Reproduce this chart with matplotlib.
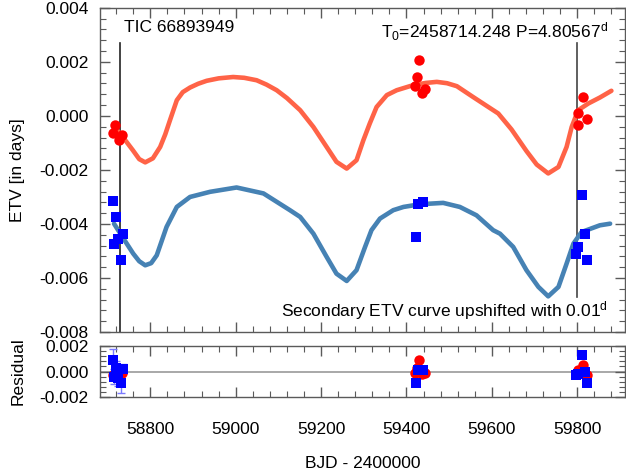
import numpy as np
import matplotlib
matplotlib.use("Agg")
import matplotlib.pyplot as plt
from matplotlib.ticker import MultipleLocator, FormatStrFormatter

plt.rcParams['font.family'] = ['Liberation Sans', 'DejaVu Sans']
plt.rcParams['mathtext.fontset'] = 'custom'
plt.rcParams['mathtext.rm'] = 'Liberation Sans'
plt.rcParams['mathtext.it'] = 'Liberation Sans'
plt.rcParams['axes.unicode_minus'] = False

# model curves
prim_x = [58713, 58736, 58759, 58774, 58788, 58806, 58823, 58835, 58846, 58862, 58876, 58893, 58912,
          58932, 58960, 58994, 59020, 59049, 59072, 59096, 59120, 59151, 59182, 59213, 59236, 59260,
          59283, 59299, 59314, 59330, 59354, 59377, 59416, 59445, 59471, 59495, 59518, 59556, 59585,
          59615, 59646, 59681, 59705, 59732, 59756, 59775, 59787, 59802, 59826, 59853, 59880]
prim_y = [-0.00035, -0.00079, -0.00127, -0.00160, -0.00172, -0.00157, -0.00115, -0.00068, -0.00016,
          0.00058, 0.00088, 0.00105, 0.00119, 0.00130, 0.00139, 0.00144, 0.00141, 0.00132, 0.00116,
          0.00095, 0.00066, 0.00021, -0.00041, -0.00115, -0.00170, -0.00195, -0.00164, -0.00090,
          -0.00028, 0.00033, 0.00077, 0.00095, 0.00114, 0.00122, 0.00126, 0.00121, 0.00110, 0.00070,
          0.00040, 0.00009, -0.00050, -0.00130, -0.00180, -0.00213, -0.00189, -0.00115, -0.00041,
          0.00021, 0.00046, 0.00068, 0.00093]

sec_x = [58715, 58737, 58760, 58774, 58788, 58802, 58815, 58838, 58862, 58893, 58940, 59002, 59065,
         59127, 59151, 59182, 59213, 59236, 59260, 59283, 59303, 59318, 59338, 59369, 59393, 59432,
         59486, 59525, 59564, 59603, 59619, 59650, 59681, 59709, 59732, 59756, 59775, 59791, 59810,
         59853, 59877]
sec_y = [-0.00399, -0.00454, -0.00510, -0.00538, -0.00553, -0.00545, -0.00516, -0.00411, -0.00337,
         -0.00300, -0.00281, -0.00265, -0.00287, -0.00349, -0.00374, -0.00436, -0.00522, -0.00584,
         -0.00611, -0.00571, -0.00485, -0.00423, -0.00380, -0.00349, -0.00337, -0.00327, -0.00322,
         -0.00337, -0.00368, -0.00423, -0.00436, -0.00485, -0.00571, -0.00633, -0.00668, -0.00633,
         -0.00547, -0.00473, -0.00430, -0.00405, -0.00399]

# measured minima
p_x = [58712, 58717, 58727, 58734, 59420, 59424, 59430, 59436, 59443, 59802, 59802, 59814, 59822]
p_y = [-0.00063, -0.00034, -0.00090, -0.00071, 0.00110, 0.00144, 0.00206, 0.00083, 0.00101,
       0.00009, -0.00034, 0.00070, -0.00010]
p_res = [-0.0003, -0.0001, 0.0000, -0.0001, -0.0001, 0.0003, 0.0009, -0.0002, -0.0001,
         0.0001, -0.0002, 0.0005, -0.0003]
p_err = [0.0002, 0.0002, 0.0002, 0.0002, 0.0001, 0.0001, 0.0001, 0.0001, 0.0001,
         0.0001, 0.0001, 0.0001, 0.0001]

s_x = [58712, 58716, 58720, 58725, 58731, 58737, 59422, 59427, 59439, 59797, 59802, 59810, 59818, 59822]
s_y = [-0.00316, -0.00473, -0.00376, -0.00454, -0.00532, -0.00436, -0.00448, -0.00325, -0.00318,
       -0.00510, -0.00485, -0.00294, -0.00436, -0.00532]
s_res = [0.0009, -0.0004, 0.0003, -0.0005, -0.0009, 0.0002, -0.0009, 0.0001, 0.0001,
         -0.0003, -0.0002, 0.0013, 0.0000, -0.0009]
s_err = [0.0009, 0.0006, 0.0005, 0.0006, 0.0008, 0.0004, 0.0001, 0.0001, 0.0001,
         0.0001, 0.0001, 0.0001, 0.0001, 0.0001]

ecl_lines = [58730, 59799]

frame = '#5a5a5a'
fig = plt.figure(figsize=(6.26, 4.76), dpi=100)
ax = fig.add_axes([0.159, 0.3025, 0.8395, 0.681])
axr = fig.add_axes([0.159, 0.166, 0.8395, 0.107])

ax.plot(prim_x, prim_y, color='#ff6347', lw=3.3, solid_capstyle='round',
        solid_joinstyle='round', zorder=2)
ax.plot(sec_x, sec_y, color='#4682b4', lw=3.3, solid_capstyle='round',
        solid_joinstyle='round', zorder=2)
ax.plot(p_x, p_y, 'o', color='#ff0000', ms=7.5, mew=0, zorder=3)
ax.plot(s_x, s_y, 's', color='#0000ff', ms=6.5, mew=0, zorder=3)
ax.axvline(ecl_lines[0], ymin=0.0, ymax=0.892, color='#222222', lw=1.2, zorder=1)
ax.axvline(ecl_lines[1], ymin=0.108, ymax=0.892, color='#444444', lw=1.2, zorder=1)

ax.text(0.047, 0.962, 'TIC 66893949', transform=ax.transAxes, fontsize=12.5, va='top', ha='left')
ax.text(0.967, 0.962, r'T$_0$=2458714.248 P=4.80567$^{\rm d}$', transform=ax.transAxes,
        fontsize=12.5, va='top', ha='right')
ax.text(0.967, 0.03, r'Secondary ETV curve upshifted with 0.01$^{\rm d}$', transform=ax.transAxes,
        fontsize=12.5, va='bottom', ha='right')

ax.set_xlim(58681, 59912)
ax.set_ylim(-0.008, 0.004)
ax.set_ylabel('ETV [in days]', fontsize=12.5, labelpad=10)
ax.yaxis.set_major_locator(MultipleLocator(0.002))
ax.yaxis.set_minor_locator(MultipleLocator(0.0004))
ax.yaxis.set_major_formatter(FormatStrFormatter('%.3f'))
ax.tick_params(labelbottom=False)

axr.axhline(0, color='#999999', lw=1.2, zorder=1)
axr.errorbar(s_x, s_res, yerr=s_err, fmt='none', ecolor='#7a7aff', elinewidth=1, capsize=3, zorder=2)
axr.errorbar(p_x, p_res, yerr=p_err, fmt='none', ecolor='#ff7a7a', elinewidth=1, capsize=3, zorder=2)
axr.plot(p_x, p_res, 'o', color='#ff0000', ms=7.5, mew=0, zorder=3)
axr.plot(s_x, s_res, 's', color='#0000ff', ms=6.5, mew=0, zorder=4)
axr.set_xlim(58681, 59912)
axr.set_ylim(-0.002, 0.002)
axr.set_ylabel('Residual', fontsize=12.5, labelpad=10)
axr.set_xlabel('BJD - 2400000', fontsize=12.5, labelpad=14)
axr.yaxis.set_major_locator(MultipleLocator(0.002))
axr.yaxis.set_minor_locator(MultipleLocator(0.0004))
axr.yaxis.set_major_formatter(FormatStrFormatter('%.3f'))

for a in (ax, axr):
    a.xaxis.set_major_locator(MultipleLocator(200))
    a.xaxis.set_minor_locator(MultipleLocator(40))
    a.tick_params(which='both', direction='in', top=True, right=True, colors=frame,
                  labelcolor='black', labelsize=12.5)
    a.tick_params(which='major', length=7, width=1)
    a.tick_params(which='minor', length=4, width=0.8)
    a.tick_params(axis='y', pad=8)
    for s in a.spines.values():
        s.set_color(frame)
        s.set_linewidth(1)
axr.tick_params(axis='x', pad=18)

fig.savefig('out.png', dpi=100)
